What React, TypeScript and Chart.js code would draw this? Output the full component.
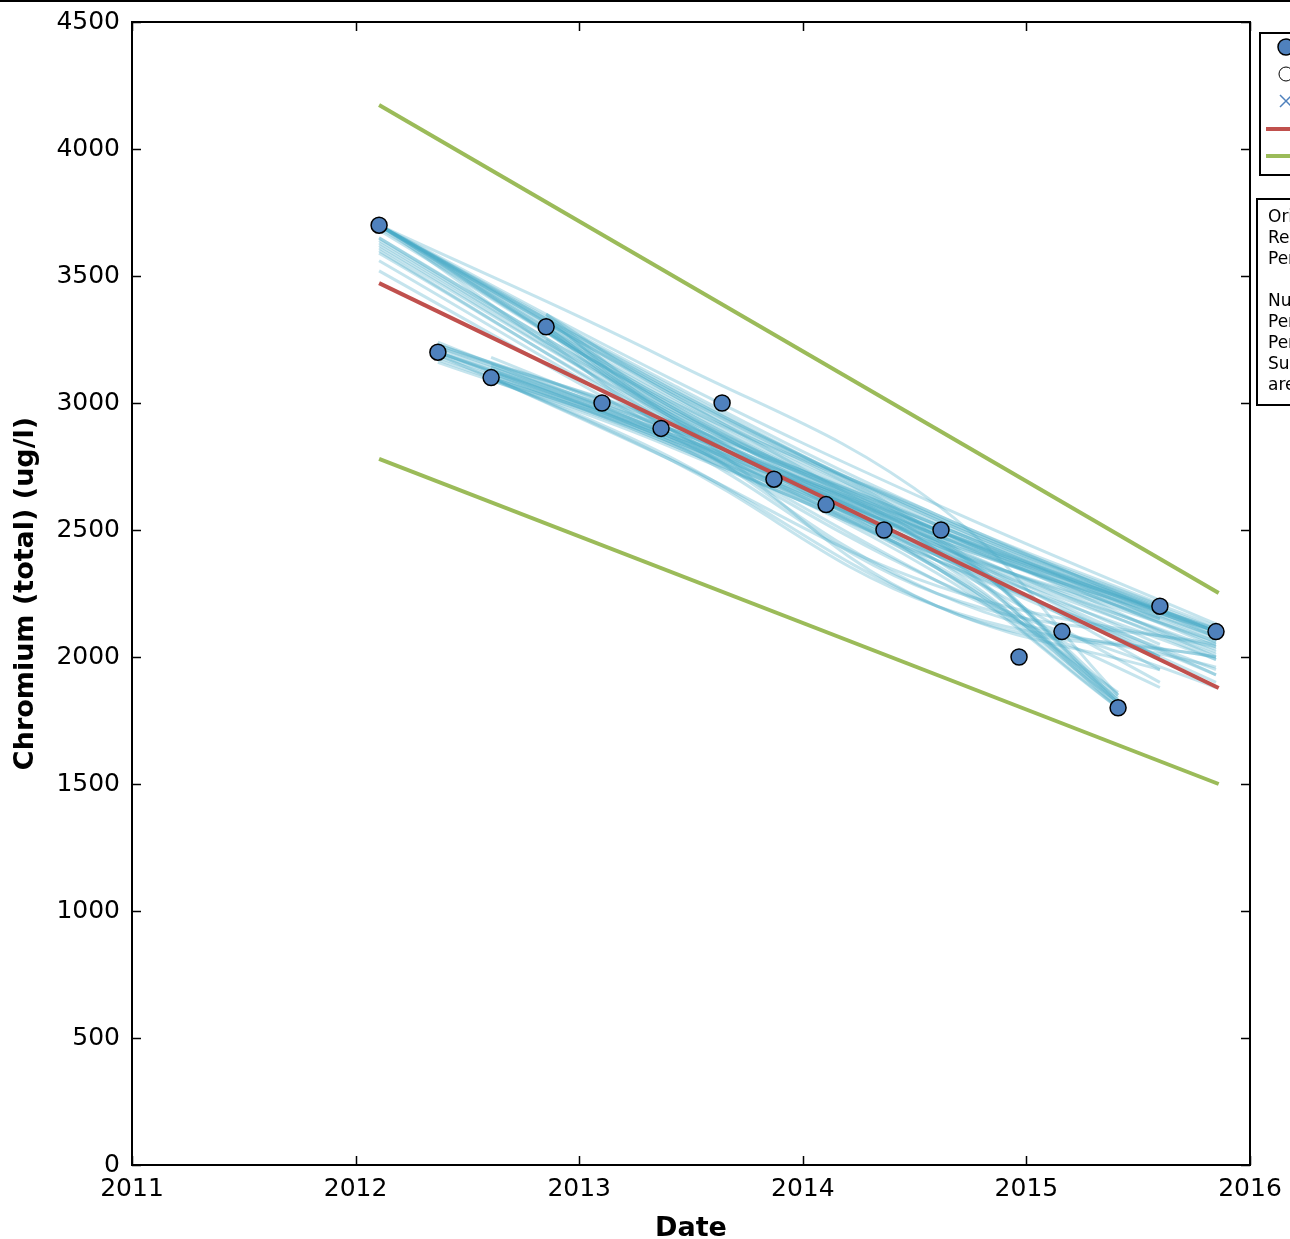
import React, { useEffect, useRef } from "react";
import { Chart, registerables } from "chart.js";

Chart.register(...registerables);

// Observed data (decimal year, ug/l)
const obsDates = [2012.105, 2012.368, 2012.606, 2012.852, 2013.102, 2013.366, 2013.639, 2013.871, 2014.104, 2014.363, 2014.618, 2014.967, 2015.159, 2015.41, 2015.597, 2015.848];
const obsValues = [3700, 3200, 3100, 3300, 3000, 2900, 3000, 2700, 2600, 2500, 2500, 2000, 2100, 1800, 2200, 2100];

// Trend line and confidence band ends
const trendX = [2012.105, 2015.86];
const trendY = [3472, 1878];
const upperY = [4173, 2252];
const lowerY = [2780, 1500];

// Bootstrap fits: [startX, startY, y@mid1, y@mid2, endX, endY]
const bootMidX = [2013.4, 2014.6];
const bootstrapFits: number[][] = [
  [2012.105, 3700, 3050, 2540, 2015.848, 2110],
  [2012.105, 3700, 3020, 2520, 2015.848, 2090],
  [2012.105, 3700, 3080, 2560, 2015.597, 2210],
  [2012.105, 3700, 3000, 2500, 2015.848, 2070],
  [2012.105, 3700, 3060, 2480, 2015.41, 1830],
  [2012.105, 3690, 2990, 2420, 2015.41, 1800],
  [2012.105, 3700, 3170, 2600, 2015.41, 1850],
  [2012.105, 3650, 2980, 2460, 2015.848, 1990],
  [2012.105, 3630, 2960, 2400, 2015.848, 1930],
  [2012.105, 3610, 2940, 2380, 2015.597, 1900],
  [2012.105, 3590, 2930, 2450, 2015.848, 2020],
  [2012.105, 3560, 2900, 2350, 2015.41, 1860],
  [2012.105, 3520, 2880, 2300, 2015.848, 1880],
  [2012.105, 3700, 3100, 2600, 2015.848, 2130],
  [2012.105, 3600, 2900, 2250, 2015.848, 1960],
  [2012.105, 3700, 3040, 2450, 2015.597, 2000],
  [2012.105, 3700, 3030, 2530, 2015.848, 2100],
  [2012.105, 3700, 3060, 2550, 2015.848, 2120],
  [2012.105, 3700, 3010, 2510, 2015.597, 2190],
  [2012.105, 3700, 3070, 2540, 2015.597, 2200],
  [2012.105, 3700, 3040, 2470, 2015.41, 1820],
  [2012.105, 3700, 2990, 2440, 2015.848, 2030],
  [2012.105, 3680, 3000, 2480, 2015.848, 2060],
  [2012.105, 3640, 2970, 2500, 2015.848, 2100],
  [2012.105, 3620, 2950, 2440, 2015.597, 2050],
  [2012.105, 3650, 2950, 2200, 2015.848, 2000],
  [2012.105, 3700, 2920, 2380, 2015.41, 1810],
  [2012.368, 3230, 2920, 2480, 2015.848, 2050],
  [2012.368, 3200, 2880, 2400, 2015.41, 1820],
  [2012.368, 3180, 2860, 2380, 2015.848, 1950],
  [2012.368, 3220, 2930, 2520, 2015.597, 2150],
  [2012.368, 3160, 2840, 2330, 2015.41, 1800],
  [2012.368, 3200, 2890, 2460, 2015.848, 2100],
  [2012.368, 3240, 2870, 2300, 2015.597, 1880],
  [2012.368, 3190, 2780, 2200, 2015.848, 2000],
  [2012.368, 3210, 2900, 2470, 2015.848, 2080],
  [2012.368, 3200, 2870, 2420, 2015.848, 2010],
  [2012.368, 3220, 2900, 2500, 2015.597, 2180],
  [2012.368, 3170, 2850, 2360, 2015.41, 1840],
  [2012.368, 3230, 2910, 2440, 2015.848, 2060],
  [2012.368, 3190, 2880, 2490, 2015.848, 2110],
  [2012.368, 3200, 2850, 2250, 2015.848, 2050],
  [2012.606, 3100, 2860, 2420, 2015.848, 1930],
  [2012.606, 3150, 2880, 2450, 2015.41, 1850],
  [2012.606, 3120, 2840, 2380, 2015.597, 2000],
  [2012.606, 3100, 2780, 2280, 2015.848, 2040],
  [2012.606, 3180, 2900, 2500, 2015.848, 2080],
  [2012.606, 3100, 2790, 2200, 2015.597, 1950],
  [2012.606, 3110, 2870, 2460, 2015.848, 2100],
  [2012.606, 3130, 2860, 2430, 2015.597, 2150],
  [2012.606, 3090, 2830, 2350, 2015.41, 1820],
  [2012.606, 3140, 2870, 2480, 2015.848, 2110],
  [2012.606, 3100, 2850, 2400, 2015.848, 1990],
  [2012.852, 3350, 2990, 2500, 2015.848, 2000],
  [2012.852, 3300, 2960, 2460, 2015.41, 1830],
  [2012.852, 3280, 2940, 2430, 2015.597, 1950],
  [2012.852, 3250, 2900, 2400, 2015.848, 1900],
  [2012.852, 3320, 3010, 2560, 2015.848, 2080],
  [2012.852, 3300, 2950, 2350, 2015.41, 1800],
  [2012.852, 3330, 2980, 2520, 2015.848, 2100],
  [2012.852, 3290, 2950, 2480, 2015.597, 2180],
  [2012.852, 3340, 2960, 2420, 2015.41, 1820],
  [2012.852, 3310, 2970, 2500, 2015.848, 2040],
  [2012.852, 3350, 3050, 2550, 2015.848, 2100],
];

const xTicks = [2011, 2012, 2013, 2014, 2015, 2016];
const yTicks = [0, 500, 1000, 1500, 2000, 2500, 3000, 3500, 4000, 4500];

const legendLabels = ["Observations", "Censored", "Outlier", "Trend", "90% CI"];
const infoLines = [
  "Original slope: -427 ug/l/yr",
  "Resampled slope: -425 ug/l/yr",
  "Percent change: -11.6 %/yr",
  "",
  "Number of resamples: 100",
  "Percentile 5%: -520 ug/l/yr",
  "Percentile 95%: -330 ug/l/yr",
  "Summary: trend and confidence limits",
  "are based on bootstrap resampling",
];

const FONT = "DejaVu Sans";

const framePlugin = {
  id: "frame",
  afterDraw(chart: any) {
    const ctx = chart.ctx;
    const { left, right, top, bottom } = chart.chartArea;
    const xs = chart.scales.x;
    const ys = chart.scales.y;
    ctx.save();
    ctx.strokeStyle = "#000";
    ctx.lineWidth = 2;
    ctx.strokeRect(left, top, right - left, bottom - top);
    const tl = 9;
    ctx.lineWidth = 1.5;
    ctx.beginPath();
    xTicks.forEach((t) => {
      const px = Math.round(xs.getPixelForValue(t)) + 0.5;
      ctx.moveTo(px, bottom);
      ctx.lineTo(px, bottom - tl);
      ctx.moveTo(px, top);
      ctx.lineTo(px, top + tl);
    });
    yTicks.forEach((t) => {
      const py = Math.round(ys.getPixelForValue(t)) + 0.5;
      ctx.moveTo(left, py);
      ctx.lineTo(left + tl, py);
      ctx.moveTo(right, py);
      ctx.lineTo(right - tl, py);
    });
    ctx.stroke();

    // top figure edge line
    ctx.fillStyle = "#000";
    ctx.fillRect(0, 0, chart.width, 2);

    // Legend box
    const lx = 1260;
    ctx.lineWidth = 2;
    ctx.strokeRect(lx, 33, 200, 142);
    const rows = [47, 74, 101, 129, 156];
    const mx = 1286;
    ctx.beginPath();
    ctx.arc(mx, rows[0], 8, 0, Math.PI * 2);
    ctx.fillStyle = "#4f81bd";
    ctx.fill();
    ctx.lineWidth = 1.5;
    ctx.strokeStyle = "#000";
    ctx.stroke();
    ctx.beginPath();
    ctx.arc(mx, rows[1], 7, 0, Math.PI * 2);
    ctx.lineWidth = 1;
    ctx.stroke();
    ctx.beginPath();
    ctx.strokeStyle = "#4f81bd";
    ctx.lineWidth = 1.5;
    ctx.moveTo(mx - 6, rows[2] - 6);
    ctx.lineTo(mx + 6, rows[2] + 6);
    ctx.moveTo(mx + 6, rows[2] - 6);
    ctx.lineTo(mx - 6, rows[2] + 6);
    ctx.stroke();
    ctx.lineWidth = 4;
    ctx.strokeStyle = "#c0504d";
    ctx.beginPath();
    ctx.moveTo(1266, rows[3]);
    ctx.lineTo(1306, rows[3]);
    ctx.stroke();
    ctx.strokeStyle = "#9bbb59";
    ctx.beginPath();
    ctx.moveTo(1266, rows[4]);
    ctx.lineTo(1306, rows[4]);
    ctx.stroke();
    ctx.fillStyle = "#000";
    ctx.font = `20px "${FONT}"`;
    ctx.textBaseline = "middle";
    legendLabels.forEach((lab, i) => ctx.fillText(lab, 1316, rows[i]));

    // Info box
    ctx.strokeStyle = "#000";
    ctx.lineWidth = 2;
    ctx.strokeRect(1257, 199, 400, 206);
    ctx.font = `17px "${FONT}"`;
    infoLines.forEach((t, i) => ctx.fillText(t, 1268, 218 + i * 20.9));
    ctx.restore();
  },
};

export default function App() {
  const ref = useRef<HTMLCanvasElement>(null);
  useEffect(() => {
    if (!ref.current) return;
    const bootDatasets = bootstrapFits.map((f) => ({
      type: "line" as const,
      data: [
        { x: f[0], y: f[1] },
        { x: bootMidX[0], y: f[2] },
        { x: bootMidX[1], y: f[3] },
        { x: f[4], y: f[5] },
      ],
      borderColor: "rgba(75,172,198,0.32)",
      borderWidth: 3,
      pointRadius: 0,
      tension: 0.4,
      fill: false,
      order: 3,
    }));
    const chart = new Chart(ref.current, {
      type: "scatter",
      data: {
        datasets: [
          {
            type: "scatter" as const,
            data: obsDates.map((d, i) => ({ x: d, y: obsValues[i] })),
            backgroundColor: "#4f81bd",
            borderColor: "#000",
            borderWidth: 1.5,
            pointRadius: 8,
            order: 0,
          },
          {
            type: "line" as const,
            data: trendX.map((d, i) => ({ x: d, y: trendY[i] })),
            borderColor: "#c0504d",
            borderWidth: 4,
            pointRadius: 0,
            order: 1,
          },
          {
            type: "line" as const,
            data: trendX.map((d, i) => ({ x: d, y: upperY[i] })),
            borderColor: "#9bbb59",
            borderWidth: 4,
            pointRadius: 0,
            order: 2,
          },
          {
            type: "line" as const,
            data: trendX.map((d, i) => ({ x: d, y: lowerY[i] })),
            borderColor: "#9bbb59",
            borderWidth: 4,
            pointRadius: 0,
            order: 2,
          },
          ...bootDatasets,
        ] as any,
      },
      options: {
        animation: false,
        responsive: false,
        devicePixelRatio: 1,
        layout: { padding: { left: 0, top: 22, right: 40, bottom: 0 } },
        plugins: { legend: { display: false }, tooltip: { enabled: false } },
        scales: {
          x: {
            type: "linear",
            min: 2011,
            max: 2016,
            afterFit: (s: any) => {
              s.height = 74;
              s.paddingLeft = 0;
              s.paddingRight = 0;
            },
            afterBuildTicks: (s: any) => {
              s.ticks = xTicks.map((v) => ({ value: v }));
            },
            ticks: {
              color: "#000",
              padding: 9,
              maxRotation: 0,
              font: { family: FONT, size: 25 },
              callback: (v: any) => String(v),
            },
            grid: { display: false, drawTicks: false },
            border: { display: false },
            title: {
              display: true,
              text: "Date",
              color: "#000",
              font: { family: FONT, size: 27, weight: "bold" },
              padding: { top: 0, bottom: -6 },
            },
          },
          y: {
            type: "linear",
            min: 0,
            max: 4500,
            afterFit: (s: any) => {
              s.width = 132;
              s.paddingTop = 0;
              s.paddingBottom = 0;
            },
            afterBuildTicks: (s: any) => {
              s.ticks = yTicks.map((v) => ({ value: v }));
            },
            ticks: {
              color: "#000",
              padding: 12,
              font: { family: FONT, size: 25 },
              callback: (v: any) => String(v),
            },
            grid: { display: false, drawTicks: false },
            border: { display: false },
            title: {
              display: true,
              text: "Chromium (total) (ug/l)",
              color: "#000",
              font: { family: FONT, size: 27, weight: "bold" },
              padding: { top: 10, bottom: 0 },
            },
          },
        },
      },
      plugins: [framePlugin],
    });
    return () => chart.destroy();
  }, []);

  return (
    <div style={{ position: "fixed", left: 0, top: 0, width: 1290, height: 1239, overflow: "hidden", background: "#fff" }}>
      <canvas ref={ref} width={1290} height={1239} style={{ display: "block" }} />
    </div>
  );
}
